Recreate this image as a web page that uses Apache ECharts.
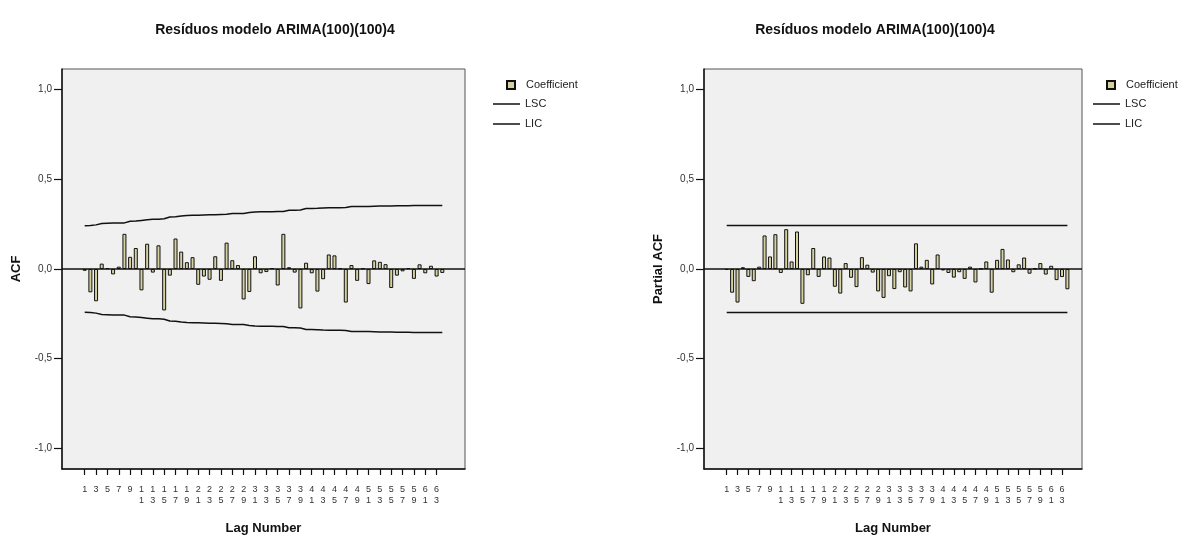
<!DOCTYPE html>
<html>
<head>
<meta charset="utf-8">
<script src="https://cdn.jsdelivr.net/npm/echarts@6/dist/echarts.min.js"></script>
<style>
  html, body { margin: 0; padding: 0; background: #ffffff; }
  #chart { width: 1200px; height: 540px; }
</style>
</head>
<body>
<div id="chart"></div>
<script>
// Lags 1..64
const lags = Array.from({ length: 64 }, (_, i) => i + 1);

// Residual autocorrelation (ACF) by lag
const acfValues = [
  -0.010, -0.130, -0.180, 0.030, 0.005, -0.030, 0.013, 0.196,
  0.068, 0.117, -0.119, 0.141, -0.020, 0.132, -0.231, -0.037,
  0.170, 0.097, 0.038, 0.066, -0.088, -0.042, -0.060, 0.071,
  -0.066, 0.147, 0.049, 0.022, -0.170, -0.128, 0.071, -0.024,
  -0.017, 0.005, -0.092, 0.196, 0.010, -0.020, -0.220, 0.035,
  -0.024, -0.126, -0.057, 0.081, 0.076, 0.003, -0.187, 0.022,
  -0.066, 0.003, -0.084, 0.048, 0.040, 0.027, -0.106, -0.037,
  -0.013, 0.005, -0.055, 0.026, -0.024, 0.018, -0.042, -0.022
];

// Upper / lower confidence limits for the ACF
const acfLSC = [
  0.241, 0.242, 0.246, 0.254, 0.255, 0.256, 0.256, 0.257,
  0.266, 0.268, 0.271, 0.274, 0.277, 0.277, 0.280, 0.290,
  0.291, 0.296, 0.298, 0.299, 0.300, 0.301, 0.302, 0.303,
  0.304, 0.305, 0.309, 0.310, 0.310, 0.315, 0.318, 0.319,
  0.319, 0.319, 0.320, 0.321, 0.328, 0.328, 0.329, 0.337,
  0.337, 0.338, 0.340, 0.341, 0.342, 0.342, 0.343, 0.348,
  0.348, 0.349, 0.349, 0.350, 0.351, 0.351, 0.351, 0.353,
  0.353, 0.353, 0.354, 0.354, 0.354, 0.354, 0.354, 0.354
];
const acfLIC = [
  -0.241, -0.242, -0.246, -0.254, -0.255, -0.256, -0.256, -0.257,
  -0.266, -0.268, -0.271, -0.274, -0.277, -0.277, -0.280, -0.290,
  -0.291, -0.296, -0.298, -0.299, -0.300, -0.301, -0.302, -0.303,
  -0.304, -0.305, -0.309, -0.310, -0.310, -0.315, -0.318, -0.319,
  -0.319, -0.319, -0.320, -0.321, -0.328, -0.328, -0.329, -0.337,
  -0.337, -0.338, -0.340, -0.341, -0.342, -0.342, -0.343, -0.348,
  -0.348, -0.349, -0.349, -0.350, -0.351, -0.351, -0.351, -0.353,
  -0.353, -0.353, -0.354, -0.354, -0.354, -0.354, -0.354, -0.354
];

// Residual partial autocorrelation (PACF) by lag
const pacfValues = [
  -0.005, -0.132, -0.187, 0.010, -0.044, -0.068, 0.013, 0.187,
  0.070, 0.194, -0.022, 0.222, 0.042, 0.209, -0.194, -0.035,
  0.117, -0.044, 0.070, 0.064, -0.099, -0.137, 0.033, -0.049,
  -0.101, 0.066, 0.024, -0.020, -0.125, -0.161, -0.040, -0.112,
  -0.018, -0.103, -0.125, 0.143, 0.013, 0.051, -0.086, 0.081,
  -0.008, -0.022, -0.048, -0.018, -0.055, 0.013, -0.075, 0.002,
  0.042, -0.132, 0.051, 0.112, 0.053, -0.018, 0.026, 0.064,
  -0.026, 0.002, 0.033, -0.031, 0.018, -0.062, -0.045, -0.113
];

// Constant confidence limits for the PACF
const pacfLSC = new Array(64).fill(0.243);
const pacfLIC = new Array(64).fill(-0.243);

// Tick positions
const lagTicks = lags.filter(v => v % 2 === 1);
const yTicks = [-1, -0.5, 0, 0.5, 1];

const chartTitle = 'Resíduos modelo ARIMA(100)(100)4';
const FONT = 'Liberation Sans, Arial, sans-serif';
const BAR_COLOR = '#d6d1a0';

function pairs(xs, ys) { return xs.map((x, i) => [x, ys[i]]); }

function lagLabel(v) {
  const s = String(v);
  return s.length > 1 ? s.split('').join('\n') : s;
}

function makeXAxis(gridIndex, min, max) {
  return {
    type: 'value', gridIndex, min, max,
    name: 'Lag Number', nameLocation: 'middle', nameGap: 53,
    nameTextStyle: { fontFamily: FONT, fontSize: 13, fontWeight: 'bold', color: '#111' },
    axisLine: { show: true, onZero: false, lineStyle: { color: '#111', width: 1.5 } },
    axisTick: { show: true, customValues: lagTicks, length: 6, lineStyle: { color: '#111', width: 1.2 } },
    axisLabel: {
      customValues: lagTicks, formatter: lagLabel, margin: 15,
      fontFamily: FONT, fontSize: 9, lineHeight: 11, color: '#333',
      verticalAlign: 'top'
    },
    splitLine: { show: false }
  };
}

function makeYAxis(gridIndex, name) {
  return {
    type: 'value', gridIndex, min: -1.115, max: 1.115,
    name, nameLocation: 'middle', nameGap: 39, nameRotate: 90,
    nameTextStyle: { fontFamily: FONT, fontSize: 13, fontWeight: 'bold', color: '#111' },
    axisLine: { show: true, onZero: false, lineStyle: { color: '#111', width: 1.5 } },
    axisTick: { show: true, customValues: yTicks, length: 8, lineStyle: { color: '#111', width: 1.2 } },
    axisLabel: {
      customValues: yTicks, margin: 10,
      formatter: v => v.toFixed(1).replace('.', ','),
      fontFamily: FONT, fontSize: 10, color: '#333'
    },
    splitLine: { show: false }
  };
}

function barSeries(idx, values) {
  return {
    name: 'Coefficient', type: 'bar', xAxisIndex: idx, yAxisIndex: idx,
    data: pairs(lags, values), barWidth: 4,
    itemStyle: { color: BAR_COLOR, borderColor: '#111', borderWidth: 1 },
    markLine: {
      silent: true, symbol: 'none', label: { show: false },
      lineStyle: { color: '#111', width: 1.5, type: 'solid' },
      data: [{ yAxis: 0 }]
    },
    z: 3
  };
}

function limitSeries(idx, name, values) {
  return {
    name, type: 'line', xAxisIndex: idx, yAxisIndex: idx,
    data: pairs(lags, values), symbol: 'none', color: '#111',
    lineStyle: { color: '#111', width: 1.5 }, z: 4
  };
}

function legendPair(x, y) {
  return [
    {
      data: ['Coefficient'], left: x + 10, top: y, orient: 'vertical', padding: 0,
      itemWidth: 8, itemHeight: 8, icon: 'rect',
      textStyle: { fontFamily: FONT, fontSize: 11, color: '#222', lineHeight: 12, padding: [0, 0, 0, 6] },
      selectedMode: false
    },
    {
      data: ['LSC', 'LIC'], left: x - 3, top: y + 19, orient: 'vertical', padding: 0,
      itemWidth: 27, itemHeight: 1.5, icon: 'rect', itemGap: 8,
      textStyle: { fontFamily: FONT, fontSize: 11, color: '#222', lineHeight: 12 },
      selectedMode: false
    }
  ];
}

const chart = echarts.init(document.getElementById('chart'), null, { renderer: 'canvas' });

chart.setOption({
  backgroundColor: '#ffffff',
  animation: false,
  title: [
    { text: chartTitle, left: 270, top: 18, textAlign: 'center',
      textStyle: { fontFamily: FONT, fontSize: 14, fontWeight: 'bold', color: '#111' } },
    { text: chartTitle, left: 870, top: 18, textAlign: 'center',
      textStyle: { fontFamily: FONT, fontSize: 14, fontWeight: 'bold', color: '#111' } }
  ],
  legend: [...legendPair(496, 79), ...legendPair(1096, 79)],
  grid: [
    { left: 62, top: 69, width: 403, height: 406, show: true,
      backgroundColor: '#f0f0f0', borderColor: '#555', borderWidth: 1 },
    { left: 704, top: 69, width: 378, height: 406, show: true,
      backgroundColor: '#f0f0f0', borderColor: '#555', borderWidth: 1 }
  ],
  xAxis: [makeXAxis(0, -3, 68), makeXAxis(1, -3.2, 66.7)],
  yAxis: [makeYAxis(0, 'ACF'), makeYAxis(1, 'Partial ACF')],
  series: [
    barSeries(0, acfValues),
    limitSeries(0, 'LSC', acfLSC),
    limitSeries(0, 'LIC', acfLIC),
    barSeries(1, pacfValues),
    limitSeries(1, 'LSC', pacfLSC),
    limitSeries(1, 'LIC', pacfLIC)
  ]
});
</script>
</body>
</html>
